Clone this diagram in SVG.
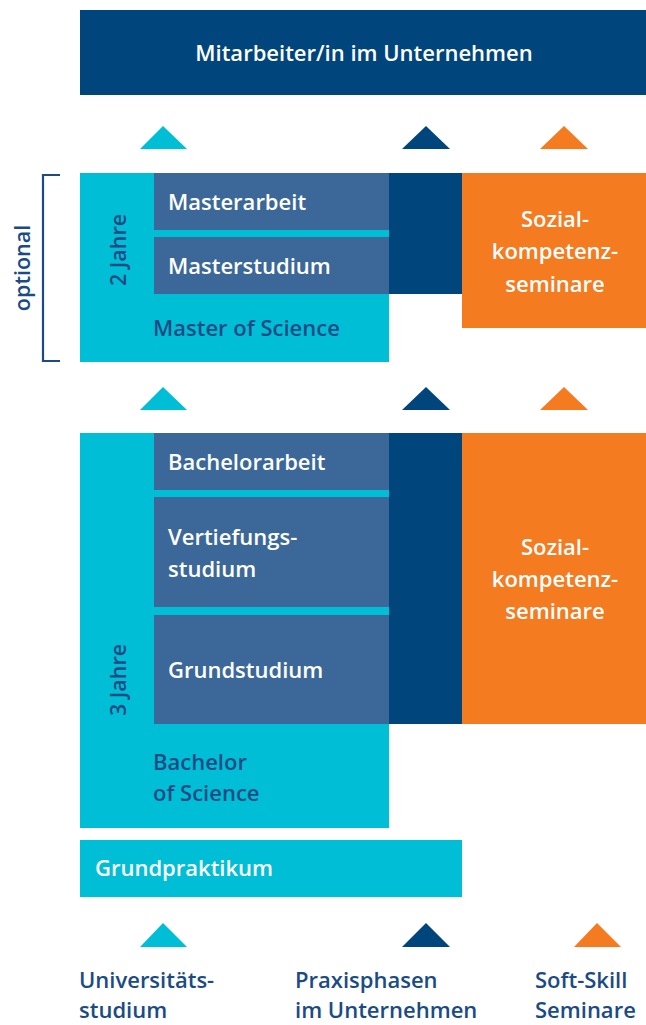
<svg xmlns="http://www.w3.org/2000/svg" width="646" height="1025" viewBox="0 0 646 1025">
<style>
.cy{fill:#00BED6}
.mb{fill:#3B6899}
.nv{fill:#00457C}
.or{fill:#F47B20}
text{font-family:"Open Sans","Noto Sans","DejaVu Sans",sans-serif;font-weight:600;font-size:22px}
.w{fill:#FFFFFF}
.d{fill:#1B4B84}
.c{text-anchor:middle}
.r{font-size:21.5px}
</style>
<rect width="646" height="1025" fill="#FFFFFF"/>
<g id="top">
<rect class="nv" x="80" y="10" width="566" height="85"/>
<text class="w c" x="364" y="61">Mitarbeiter/in im Unternehmen</text>
</g>
<g id="connectors">
<polygon class="cy" points="140,149 163,126 187,149"/>
<polygon class="nv" points="402,149 426,126 450,149"/>
<polygon class="or" points="540,149 564,126 588,149"/>
<polygon class="cy" points="140,410 163,387 187,410"/>
<polygon class="nv" points="402,410 426,387 450,410"/>
<polygon class="or" points="540,410 564,387 588,410"/>
</g>
<g id="optional">
<path d="M60,175 H43 V361 H60" fill="none" stroke="#1B4B84" stroke-width="2.2"/>
<text class="d c r" transform="translate(30,268) rotate(-90)">optional</text>
</g>
<g id="master">
<rect class="cy" x="80" y="173" width="309" height="189"/>
<text class="d c r" transform="translate(126,250) rotate(-90)">2 Jahre</text>
<text class="d" x="153" y="336">Master of Science</text>
</g>
<g id="masterarbeit">
<rect class="mb" x="154" y="173" width="235" height="57"/>
<text class="w" x="168" y="210">Masterarbeit</text>
</g>
<g id="masterstudium">
<rect class="mb" x="154" y="237" width="235" height="57"/>
<text class="w" x="168" y="274">Masterstudium</text>
</g>
<g id="praxis-master">
<rect class="nv" x="389" y="173" width="73" height="121"/>
</g>
<g id="sozial-master">
<rect class="or" x="462" y="173" width="184" height="155"/>
<text class="w c" x="555" y="227">Sozial-</text>
<text class="w c" x="555" y="259">kompetenz-</text>
<text class="w c" x="555" y="292">seminare</text>
</g>
<g id="bachelor">
<rect class="cy" x="80" y="433" width="309" height="395"/>
<text class="d c r" transform="translate(126,680) rotate(-90)">3 Jahre</text>
<text class="d" x="153" y="770">Bachelor</text>
<text class="d" x="153" y="801">of Science</text>
</g>
<g id="bachelorarbeit">
<rect class="mb" x="154" y="433" width="235" height="57"/>
<text class="w" x="168" y="470">Bachelorarbeit</text>
</g>
<g id="vertiefungsstudium">
<rect class="mb" x="154" y="497" width="235" height="110"/>
<text class="w" x="168" y="545">Vertiefungs-</text>
<text class="w" x="168" y="577">studium</text>
</g>
<g id="grundstudium">
<rect class="mb" x="154" y="615" width="235" height="109"/>
<text class="w" x="168" y="678">Grundstudium</text>
</g>
<g id="praxis-bachelor">
<rect class="nv" x="389" y="433" width="73" height="291"/>
</g>
<g id="sozial-bachelor">
<rect class="or" x="462" y="433" width="184" height="291"/>
<text class="w c" x="555" y="555">Sozial-</text>
<text class="w c" x="555" y="587">kompetenz-</text>
<text class="w c" x="555" y="619">seminare</text>
</g>
<g id="grundpraktikum">
<rect class="cy" x="80" y="840" width="382" height="57"/>
<text class="w" x="95" y="876">Grundpraktikum</text>
</g>
<g id="legend">
<polygon class="cy" points="140,947 163,923 187,947"/>
<polygon class="nv" points="402,947 426,923 450,947"/>
<polygon class="or" points="574,947 597,923 621,947"/>
<text class="d" x="79" y="988">Universitäts-</text>
<text class="d" x="79" y="1018">studium</text>
<text class="d" x="295" y="988">Praxisphasen</text>
<text class="d" x="295" y="1018">im Unternehmen</text>
<text class="d" x="535" y="988">Soft-Skill</text>
<text class="d" x="535" y="1018">Seminare</text>
</g>
</svg>
